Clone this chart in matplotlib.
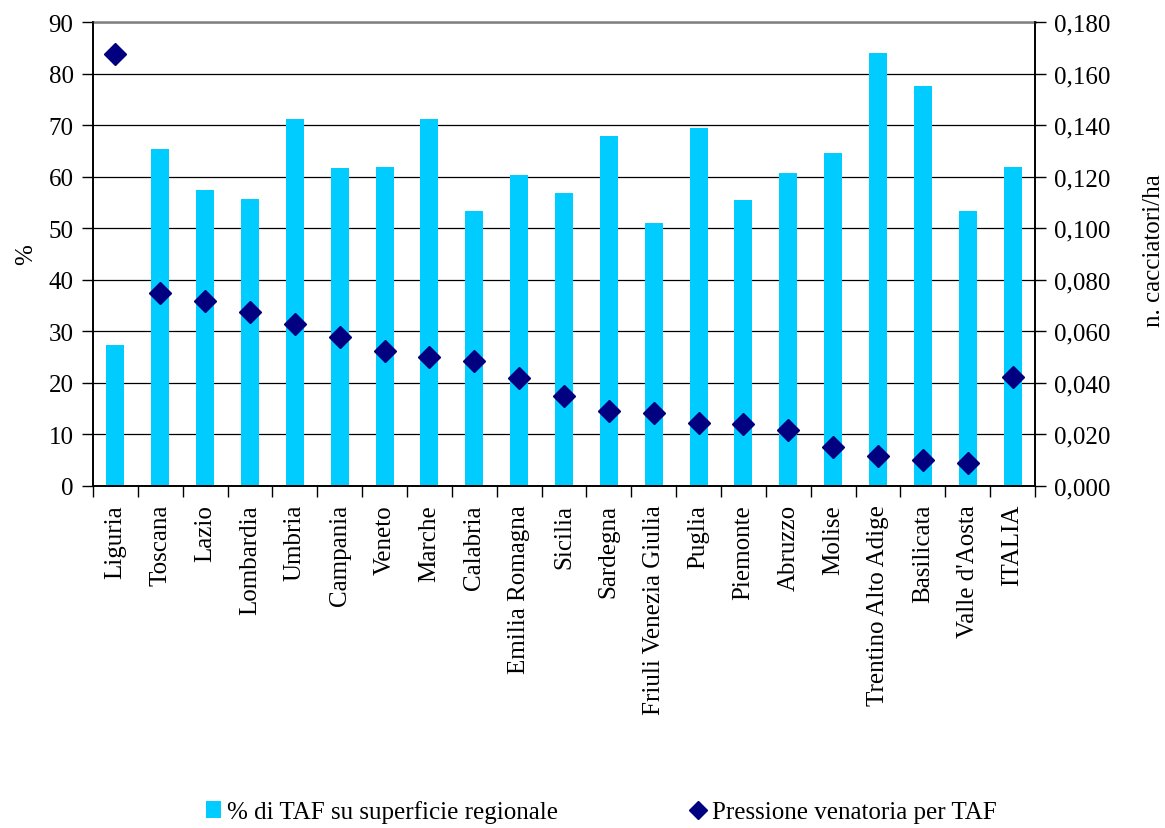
import matplotlib
matplotlib.use("Agg")
import matplotlib.pyplot as plt
from matplotlib.ticker import FuncFormatter, MultipleLocator
import numpy as np

regioni = ["Liguria", "Toscana", "Lazio", "Lombardia", "Umbria", "Campania",
           "Veneto", "Marche", "Calabria", "Emilia Romagna", "Sicilia",
           "Sardegna", "Friuli Venezia Giulia", "Puglia", "Piemonte",
           "Abruzzo", "Molise", "Trentino Alto Adige", "Basilicata",
           "Valle d'Aosta", "ITALIA"]

perc_taf = [27.3, 65.4, 57.4, 55.7, 71.2, 61.7, 61.9, 71.2, 53.3, 60.3,
            56.8, 67.9, 51.0, 69.4, 55.5, 60.7, 64.6, 84.0, 77.6, 53.3, 61.9]
pressione = [0.1676, 0.0750, 0.0716, 0.0674, 0.0628, 0.0579, 0.0525, 0.0500,
             0.0485, 0.0418, 0.0350, 0.0292, 0.0283, 0.0244, 0.0239, 0.0217,
             0.0150, 0.0115, 0.0100, 0.0089, 0.0424]

plt.rcParams["font.family"] = ["Liberation Serif", "DejaVu Serif"]
FS = 18

fig = plt.figure(figsize=(11.65, 8.29), dpi=100)
ax = fig.add_axes([93 / 1165, 1 - 487 / 829, (1035 - 93) / 1165, (487 - 23) / 829])
ax2 = ax.twinx()

x = np.arange(len(regioni))
bars = ax.bar(x, perc_taf, width=0.4, color="#00CCFF", zorder=2,
              label="% di TAF su superficie regionale")
pts, = ax2.plot(x, pressione, linestyle="none", marker="D", markersize=11,
                color="#000080", zorder=3, label="Pressione venatoria per TAF")

ax.set_xlim(-0.5, len(regioni) - 0.5)
ax.set_ylim(0, 90)
ax2.set_ylim(0, 0.18)
ax.yaxis.set_major_locator(MultipleLocator(10))
ax2.yaxis.set_major_locator(MultipleLocator(0.02))
ax2.yaxis.set_major_formatter(FuncFormatter(lambda v, p: f"{v:.3f}".replace(".", ",")))

ax.grid(axis="y", color="black", linewidth=0.9, zorder=0)
ax.set_axisbelow(True)
ax.spines["top"].set_visible(True)
ax.spines["top"].set_color("#808080")
ax.spines["top"].set_linewidth(1.8)
ax2.spines["top"].set_visible(False)
for sp in ("left", "right", "bottom"):
    ax.spines[sp].set_linewidth(1.2)
    ax2.spines[sp].set_linewidth(1.2)

ax.set_xticks(x)
ax.set_xticklabels(regioni, rotation=90, fontsize=FS)
ax.tick_params(axis="x", length=0, pad=13)
ax.set_xticks(np.arange(-0.5, len(regioni), 1), minor=True)
ax.tick_params(axis="x", which="minor", length=8, width=1, direction="out")
ax.tick_params(axis="y", labelsize=FS, direction="out", length=8, width=1, pad=6)
ax2.tick_params(axis="y", labelsize=FS, direction="out", length=8, width=1, pad=6)

ax.set_ylabel("%", fontsize=FS)
ax.yaxis.set_label_coords(-0.059, 0.5)
ax2.set_ylabel("n. cacciatori/ha", fontsize=FS)
ax2.yaxis.set_label_coords(1.115, 0.51)

fig.legend(handles=[bars, pts], loc="center", bbox_to_anchor=(0.516, 1 - 813 / 829),
           ncol=2, frameon=False, fontsize=FS, columnspacing=5.3,
           handlelength=0.6, handletextpad=0.25, markerscale=0.85)

fig.savefig("out.png", dpi=100)
